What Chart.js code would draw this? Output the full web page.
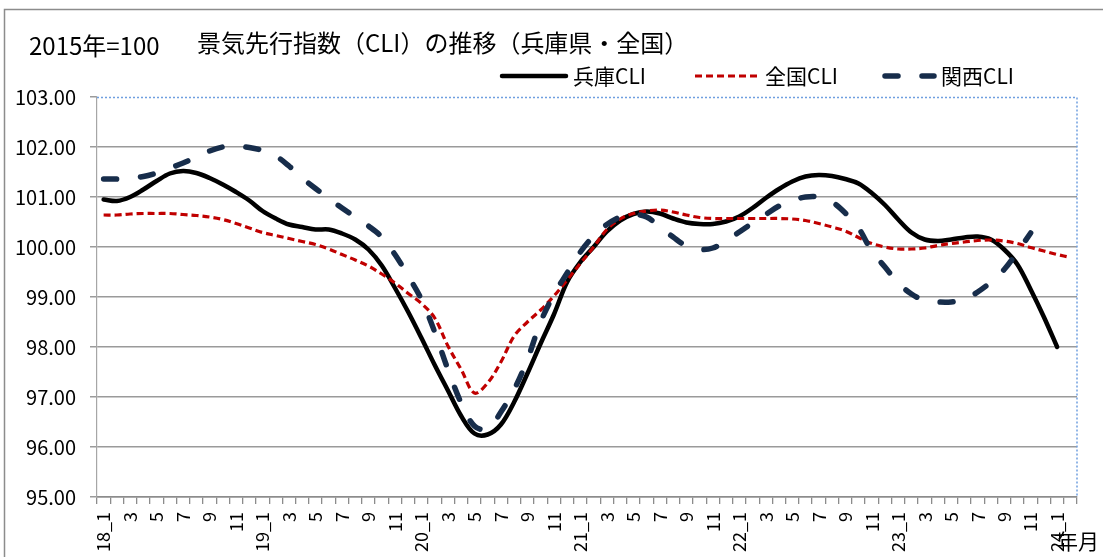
<!DOCTYPE html>
<html>
<head>
<meta charset="utf-8">
<script src="https://cdn.jsdelivr.net/npm/chart.js@4.4.1/dist/chart.umd.min.js"></script>
<style>
  html, body { margin: 0; padding: 0; background: #fff; }
  canvas { display: block; }
</style>
</head>
<body>
<canvas id="cli" width="1103" height="557"></canvas>
<script>
// x labels: one category per month, 18_1 .. 24_2, label on odd months only
const tickLabels = [
  '18_1', '', '3', '', '5', '', '7', '', '9', '', '11', '',
  '19_1', '', '3', '', '5', '', '7', '', '9', '', '11', '',
  '20_1', '', '3', '', '5', '', '7', '', '9', '', '11', '',
  '21_1', '', '3', '', '5', '', '7', '', '9', '', '11', '',
  '22_1', '', '3', '', '5', '', '7', '', '9', '', '11', '',
  '23_1', '', '3', '', '5', '', '7', '', '9', '', '11', '',
  '24_1', ''
];

const hyogo = [
  100.95, 100.92, 101.00, 101.15, 101.32, 101.47, 101.52, 101.48, 101.38, 101.25, 101.10, 100.93,
  100.72, 100.57, 100.45, 100.40, 100.35, 100.35, 100.27, 100.15, 99.95, 99.63, 99.18, 98.70,
  98.18, 97.64, 97.13, 96.62, 96.27, 96.25, 96.45, 96.90, 97.47, 98.07, 98.65, 99.30,
  99.70, 100.00, 100.31, 100.53, 100.66, 100.71, 100.67, 100.57, 100.49, 100.46, 100.46, 100.51,
  100.61, 100.78, 100.98, 101.16, 101.31, 101.41, 101.44, 101.42, 101.36, 101.27, 101.08, 100.84,
  100.55, 100.29, 100.15, 100.12, 100.15, 100.19, 100.21, 100.15, 99.95, 99.65, 99.15, 98.60,
  98.00, null
];

const zenkoku = [
  100.64, 100.64, 100.66, 100.67, 100.67, 100.67, 100.65, 100.63, 100.60, 100.55, 100.47, 100.38,
  100.29, 100.23, 100.17, 100.11, 100.05, 99.96, 99.85, 99.74, 99.62, 99.46, 99.28, 99.07,
  98.87, 98.58, 98.02, 97.55, 97.08, 97.28, 97.70, 98.22, 98.50, 98.74, 99.02, 99.34,
  99.67, 100.00, 100.35, 100.56, 100.67, 100.72, 100.74, 100.70, 100.64, 100.59, 100.57, 100.57,
  100.57, 100.57, 100.57, 100.57, 100.56, 100.53, 100.47, 100.40, 100.32, 100.19, 100.07, 100.00,
  99.96, 99.96, 99.98, 100.03, 100.07, 100.10, 100.13, 100.14, 100.12, 100.07, 99.99, 99.92,
  99.85, 99.79
];

const kansai = [
  101.36, 101.36, 101.38, 101.41, 101.48, 101.58, 101.68, 101.80, 101.92, 102.00, 102.02, 101.99,
  101.93, 101.82, 101.62, 101.38, 101.17, 100.97, 100.78, 100.60, 100.42, 100.20, 99.85, 99.42,
  98.95, 98.30, 97.55, 96.88, 96.42, 96.36, 96.70, 97.15, 97.75, 98.50, 99.05, 99.48,
  99.90, 100.22, 100.45, 100.60, 100.65, 100.60, 100.40, 100.20, 100.02, 99.95, 99.98, 100.12,
  100.30, 100.48, 100.65, 100.82, 100.93, 101.00, 101.00, 100.90, 100.68, 100.38, 99.92, 99.60,
  99.28, 99.06, 98.93, 98.90, 98.90, 98.95, 99.10, 99.30, 99.55, 99.90, 100.28, null,
  null, null
];

const FONT = '"Noto Sans CJK JP", "Noto Sans", sans-serif';

// titles, legend, borders that Excel puts round the plot
const decorations = {
  id: 'decorations',
  beforeDraw(chart) {
    const ctx = chart.ctx;
    ctx.save();
    // outer chart frame
    ctx.strokeStyle = '#8c8c8c';
    ctx.lineWidth = 1.5;
    ctx.strokeRect(4.5, 9.5, 1200, 700);
    ctx.restore();
  },
  afterDatasetsDraw(chart) {
    const ctx = chart.ctx;
    const area = chart.chartArea;
    ctx.save();
    // dotted plot-area border, top and right
    ctx.strokeStyle = '#6f9fe0';
    ctx.lineWidth = 1.5;
    ctx.setLineDash([2, 2]);
    ctx.beginPath();
    ctx.moveTo(area.left, area.top + 0.5);
    ctx.lineTo(area.right, area.top + 0.5);
    ctx.lineTo(area.right, area.bottom);
    ctx.stroke();
    ctx.setLineDash([]);

    ctx.fillStyle = '#000';
    ctx.textBaseline = 'middle';
    ctx.font = '24px ' + FONT;
    ctx.fillText('2015年=100', 29, 46);
    ctx.font = '24px ' + FONT;
    ctx.fillText('景気先行指数（CLI）の推移（兵庫県・全国）', 197, 43);

    // legend
    const items = [[502, 566], [695, 758], [885, 934]];
    ctx.font = '21px ' + FONT;
    chart.data.datasets.forEach((ds, i) => {
      const [x1, x2] = items[i];
      ctx.strokeStyle = ds.borderColor;
      ctx.lineWidth = ds.borderWidth;
      ctx.lineCap = ds.borderCapStyle || 'butt';
      ctx.setLineDash(ds.borderDash || []);
      ctx.beginPath();
      ctx.moveTo(x1, 76);
      ctx.lineTo(x2, 76);
      ctx.stroke();
      ctx.setLineDash([]);
      ctx.fillText(ds.label, x2 + 7, 76);
    });

    // axis caption
    ctx.font = '21px ' + FONT;
    ctx.fillText('年月', 1057, 541);
    ctx.restore();
  }
};

new Chart(document.getElementById('cli'), {
  type: 'line',
  data: {
    labels: tickLabels,
    datasets: [
      {
        label: '兵庫CLI',
        data: hyogo,
        borderColor: '#000000',
        borderWidth: 4.5,
        borderJoinStyle: 'round',
        borderCapStyle: 'round',
        order: 2
      },
      {
        label: '全国CLI',
        data: zenkoku,
        borderColor: '#c00000',
        borderWidth: 3.2,
        borderDash: [7, 4],
        borderCapStyle: 'butt',
        order: 1
      },
      {
        label: '関西CLI',
        data: kansai,
        borderColor: '#172d4b',
        borderWidth: 5.5,
        borderDash: [13, 24],
        borderCapStyle: 'round',
        order: 0
      }
    ]
  },
  options: {
    responsive: false,
    animation: false,
    layout: { padding: { left: 0, right: 26, top: 97, bottom: 0 } },
    elements: {
      point: { radius: 0, hoverRadius: 0 },
      line: { tension: 0.35, fill: false }
    },
    plugins: {
      legend: { display: false },
      title: { display: false },
      tooltip: { enabled: false }
    },
    scales: {
      x: {
        offset: true,
        grid: {
          offset: true,
          drawOnChartArea: false,
          drawTicks: true,
          tickLength: 7,
          color: '#8c8c8c',
          lineWidth: 1.3
        },
        border: { color: '#8c8c8c', width: 1.5 },
        ticks: {
          autoSkip: false,
          maxRotation: 90,
          minRotation: 90,
          padding: 8,
          color: '#000',
          font: { family: FONT, size: 18 }
        },
        afterFit(scale) { scale.height = 60; }
      },
      y: {
        min: 95,
        max: 103,
        ticks: {
          stepSize: 1,
          padding: 14,
          color: '#000',
          font: { family: FONT, size: 20 },
          callback: v => v.toFixed(2)
        },
        grid: {
          color: ctx => (ctx.tick && ctx.tick.value === 103) ? 'rgba(0,0,0,0)' : '#9a9a9a',
          tickColor: '#9a9a9a',
          lineWidth: 1.5,
          tickLength: 7
        },
        border: { color: '#a6a6a6', width: 1.2 },
        afterFit(scale) { scale.width = 97; }
      }
    }
  },
  plugins: [decorations]
});
</script>
</body>
</html>
